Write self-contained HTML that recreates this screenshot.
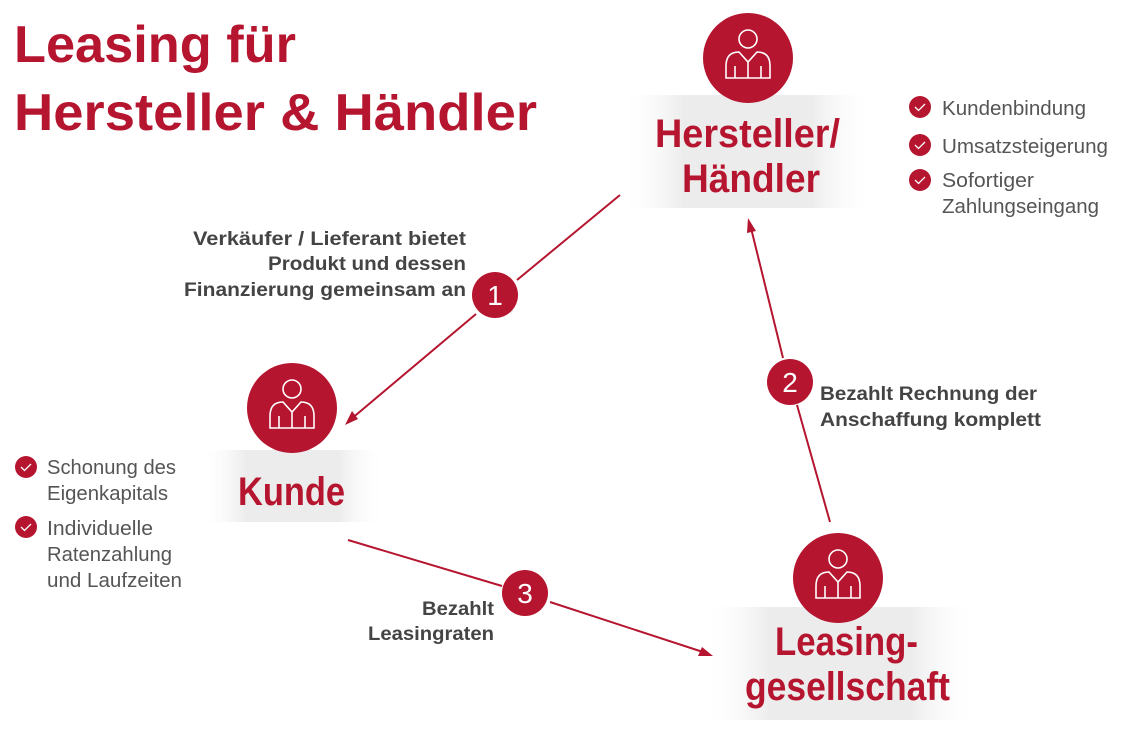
<!DOCTYPE html>
<html><head><meta charset="utf-8"><style>html,body{margin:0;padding:0;background:#fff}svg{display:block}</style></head>
<body>
<svg width="1123" height="737" viewBox="0 0 1123 737" xmlns="http://www.w3.org/2000/svg" font-family="Liberation Sans, DejaVu Sans, sans-serif">
<defs>
<linearGradient id="g" x1="0" x2="1" y1="0" y2="0">
<stop offset="0" stop-color="#fff" stop-opacity="0"/>
<stop offset="0.25" stop-color="#ececec"/>
<stop offset="0.75" stop-color="#ececec"/>
<stop offset="1" stop-color="#fff" stop-opacity="0"/>
</linearGradient>
<g id="p"><circle r="45" fill="#b5152f"/><circle cx="0" cy="-19" r="9" fill="none" stroke="#fff" stroke-width="1.6"/>
<path d="M-22 20 V8 Q-22 -6 -9 -6 L0 4 L9 -6 Q22 -6 22 8 V20 Z M-13 20 V8 M13 20 V8 M0 4 V20" fill="none" stroke="#fff" stroke-width="1.6"/></g>
<g id="c"><circle r="11" fill="#b5152f"/><path d="M-5 0 L-1.5 3.5 L5 -3" fill="none" stroke="#fff" stroke-width="1.3"/></g>
</defs>
<g fill="#b5152f" font-size="52" font-weight="bold">
<text x="14" y="62" textLength="282" lengthAdjust="spacingAndGlyphs">Leasing für</text>
<text x="14" y="130" textLength="523" lengthAdjust="spacingAndGlyphs">Hersteller &amp; Händler</text>
</g>
<rect x="620" y="95" width="255" height="113" fill="url(#g)"/>
<rect x="200" y="450" width="185" height="72" fill="url(#g)"/>
<rect x="700" y="607" width="280" height="113" fill="url(#g)"/>
<use href="#p" x="748" y="58"/>
<use href="#p" x="292" y="408"/>
<use href="#p" x="838" y="578"/>
<g fill="#b5152f" font-size="40" font-weight="bold">
<text x="655" y="147" textLength="185" lengthAdjust="spacingAndGlyphs">Hersteller/</text>
<text x="682" y="192" textLength="138" lengthAdjust="spacingAndGlyphs">Händler</text>
<text x="238" y="505" textLength="107" lengthAdjust="spacingAndGlyphs">Kunde</text>
<text x="775" y="655" textLength="143" lengthAdjust="spacingAndGlyphs">Leasing-</text>
<text x="745" y="700" textLength="205" lengthAdjust="spacingAndGlyphs">gesellschaft</text>
</g>
<g stroke="#b5152f" stroke-width="2" fill="none">
<line x1="620" y1="195" x2="517" y2="280"/><line x1="476" y1="314" x2="350" y2="420"/>
<line x1="348" y1="540" x2="502" y2="586"/><line x1="550" y1="602" x2="706" y2="653"/>
<line x1="830" y1="522" x2="797" y2="405"/><line x1="783" y1="358" x2="751" y2="228"/>
</g>
<g fill="#b5152f">
<polygon points="345,425 352,411 358,419"/>
<polygon points="713,656 698,656 702,647"/>
<polygon points="748,218 747,233 756,231"/>
<circle cx="495" cy="295" r="23"/><circle cx="790" cy="382" r="23"/><circle cx="525" cy="593" r="23"/>
</g>
<g fill="#fff" font-size="28" text-anchor="middle">
<text x="495" y="305">1</text><text x="790" y="392">2</text><text x="525" y="603">3</text>
</g>
<g fill="#444" font-size="19" font-weight="bold" text-anchor="end">
<text x="466" y="245" textLength="273" lengthAdjust="spacingAndGlyphs">Verkäufer / Lieferant bietet</text>
<text x="466" y="270" textLength="198" lengthAdjust="spacingAndGlyphs">Produkt und dessen</text>
<text x="466" y="296" textLength="282" lengthAdjust="spacingAndGlyphs">Finanzierung gemeinsam an</text>
<text x="494" y="615" textLength="72" lengthAdjust="spacingAndGlyphs">Bezahlt</text>
<text x="494" y="640" textLength="126" lengthAdjust="spacingAndGlyphs">Leasingraten</text>
</g>
<g fill="#444" font-size="19" font-weight="bold">
<text x="820" y="400" textLength="217" lengthAdjust="spacingAndGlyphs">Bezahlt Rechnung der</text>
<text x="820" y="426" textLength="221" lengthAdjust="spacingAndGlyphs">Anschaffung komplett</text>
</g>
<use href="#c" x="920" y="107"/><use href="#c" x="920" y="145"/><use href="#c" x="920" y="180"/>
<use href="#c" x="26" y="467"/><use href="#c" x="26" y="527"/>
<g fill="#555" font-size="20">
<text x="942" y="115" textLength="144" lengthAdjust="spacingAndGlyphs">Kundenbindung</text>
<text x="942" y="153" textLength="166" lengthAdjust="spacingAndGlyphs">Umsatzsteigerung</text>
<text x="942" y="187" textLength="92" lengthAdjust="spacingAndGlyphs">Sofortiger</text>
<text x="942" y="213" textLength="157" lengthAdjust="spacingAndGlyphs">Zahlungseingang</text>
<text x="47" y="474" textLength="129" lengthAdjust="spacingAndGlyphs">Schonung des</text>
<text x="47" y="500" textLength="121" lengthAdjust="spacingAndGlyphs">Eigenkapitals</text>
<text x="47" y="535" textLength="106" lengthAdjust="spacingAndGlyphs">Individuelle</text>
<text x="47" y="561" textLength="125" lengthAdjust="spacingAndGlyphs">Ratenzahlung</text>
<text x="47" y="587" textLength="135" lengthAdjust="spacingAndGlyphs">und Laufzeiten</text>
</g>
</svg>
</body></html>
